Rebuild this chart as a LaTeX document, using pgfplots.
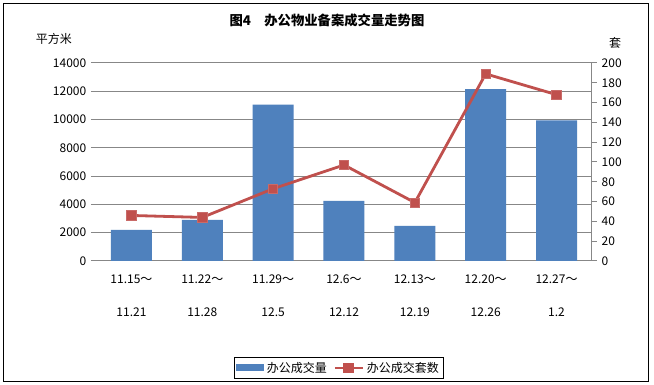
\documentclass[border=0pt]{standalone}
\usepackage{pgfplots}
\pgfplotsset{compat=1.18}
\usepackage{fontspec}
\setmainfont{Noto Sans CJK SC}
\definecolor{barblue}{HTML}{4F81BD}
\definecolor{linered}{HTML}{C0504D}
\definecolor{gridgray}{HTML}{878787}
\begin{document}
\begin{tikzpicture}[x=0.75pt,y=0.75pt]
\fill[white] (0,0) rectangle (654,385);
\draw[black, line width=0.75pt] (3.5,3.5) rectangle (648.5,381.5);
\node[font=\bfseries\fontsize{10}{12}\selectfont] at (327,365) {图4\quad 办公物业备案成交量走势图};
\node[font=\fontsize{9}{11}\selectfont] at (54,346) {平方米};
\node[font=\fontsize{9}{11}\selectfont] at (615,342) {套};
\begin{axis}[
  at={(72pt,93pt)}, anchor=south west, scale only axis,
  width=372pt, height=148.5pt,
  xmin=-0.5, xmax=6.5, ymin=0, ymax=14000,
  ytick={0,2000,...,14000},
  scaled y ticks=false,
  xtick={0,...,6},
  xticklabels={{11.15～\\11.21},{11.22～\\11.28},{11.29～\\12.5},{12.6～\\12.12},{12.13～\\12.19},{12.20～\\12.26},{12.27～\\1.2}},
  xticklabel style={align=center, font=\fontsize{9}{24.75}\selectfont, yshift=-3pt},
  yticklabel style={font=\fontsize{9}{11}\selectfont},
  /pgf/number format/assume math mode=true,
  /pgf/number format/1000 sep={},
  axis line style={draw=none},
  ytick pos=left, tick align=outside,
  major tick length=3.75pt,
  ytick style={gridgray, line width=0.75pt},
  xtick style={draw=none},
  ymajorgrids, grid style={gridgray, line width=0.75pt},
  clip=false,
]
\addplot[ybar, bar width=30.75pt, fill=barblue, draw=none] coordinates {
  (0,2200) (1,2900) (2,11050) (3,4250) (4,2480) (5,12150) (6,9950)};
\end{axis}
\begin{axis}[
  at={(72pt,93pt)}, anchor=south west, scale only axis,
  width=372pt, height=148.5pt,
  xmin=-0.5, xmax=6.5, ymin=0, ymax=200,
  ytick={0,20,...,200},
  axis x line=none,
  axis y line*=right,
  axis line style={gridgray, line width=0.75pt, -},
  ytick pos=right, tick align=outside,
  major tick length=3.75pt,
  ytick style={gridgray, line width=0.75pt},
  yticklabel style={font=\fontsize{9}{11}\selectfont},
  /pgf/number format/assume math mode=true,
  clip=false,
  legend columns=2,
  legend style={at={(0.49,-0.54)}, anchor=center, draw=black, line width=0.75pt,
    font=\fontsize{9}{11}\selectfont, inner sep=1.5pt,
    /tikz/every even column/.append style={column sep=3pt}},
]
\addlegendimage{legend image code/.code={\fill[barblue] (0pt,-2.25pt) rectangle (20pt,2.25pt);}}
\addlegendentry{办公成交量}
\addplot[linered, line width=2.1pt, mark=square*, mark size=3.5pt,
  mark options={fill=linered, draw=linered!85!white, line width=0.6pt},
  legend image code/.code={\draw[linered, line width=2.1pt] (0pt,0pt) -- (21pt,0pt);
     \fill[linered] (7.5pt,-3pt) rectangle (13.5pt,3pt);}] coordinates {
  (0,46) (1,44) (2,73) (3,97) (4,59) (5,189) (6,168)};
\addlegendentry{办公成交套数}
\end{axis}
\end{tikzpicture}
\end{document}
